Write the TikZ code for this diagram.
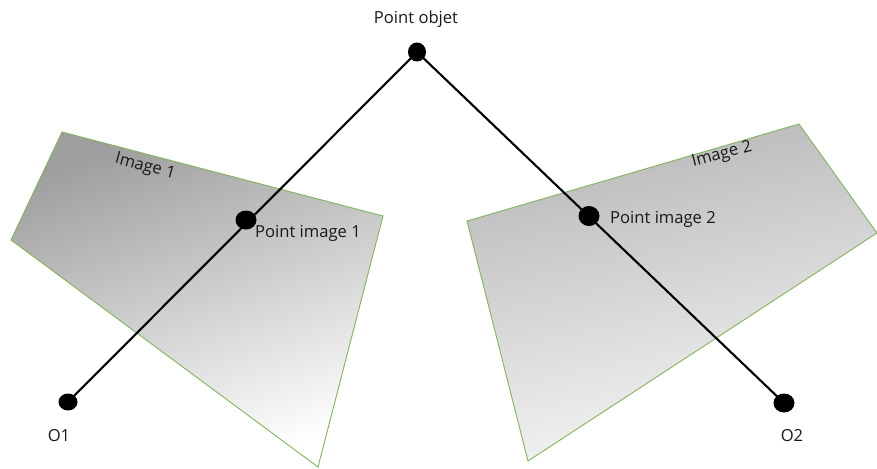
\documentclass[tikz,border=0pt]{standalone}
\usepackage{fontspec}
\usetikzlibrary{shapes.geometric}
\setmainfont{Open Sans}
\definecolor{edgegreen}{RGB}{130,180,95}
\begin{document}
\begin{tikzpicture}[x=1pt,y=-1pt,
  plane/.style={draw=edgegreen,line width=0.9pt},
  pt/.style={ellipse,fill=black,inner sep=0pt},
  lbl/.style={inner sep=0pt,font=\fontsize{16.6}{19}\selectfont,text=black!90}]
\useasboundingbox (0,0) rectangle (877,468);
\fill[white] (0,0) rectangle (877,468);
\path[plane,top color=black!38,bottom color=white,shading angle=20] (62,132) -- (383,216) -- (318,467) -- (11,240) -- cycle;
\path[plane,top color=black!28,bottom color=black!3,shading angle=12] (467,221) -- (799,124) -- (877,233) -- (528,461) -- cycle;
\node[pt,minimum width=18pt,minimum height=19pt] (obj) at (417,52) {};
\node[pt,minimum width=19pt,minimum height=17pt] (o1) at (68,402) {};
\node[pt,minimum width=21pt,minimum height=19pt] (o2) at (784,403) {};
\node[pt,minimum width=21pt,minimum height=19pt] (i1) at (246,220) {};
\node[pt,minimum width=21pt,minimum height=20pt] (i2) at (589,216) {};
\draw[line width=2.1pt] (o1.center) -- (obj.center) -- (o2.center);
\node[lbl] (t0) at (416,19) {Point objet};
\node[lbl] (t1) at (308,233) {Point image 1};
\node[lbl] (t2) at (663,219) {Point image 2};
\node[lbl,rotate=-15] (t3) at (145,167) {Image 1};
\node[lbl,rotate=15] (t4) at (722,155) {Image 2};
\node[lbl] (t5) at (59,436) {O1};
\node[lbl] (t6) at (792,436) {O2};
\end{tikzpicture}
\end{document}
